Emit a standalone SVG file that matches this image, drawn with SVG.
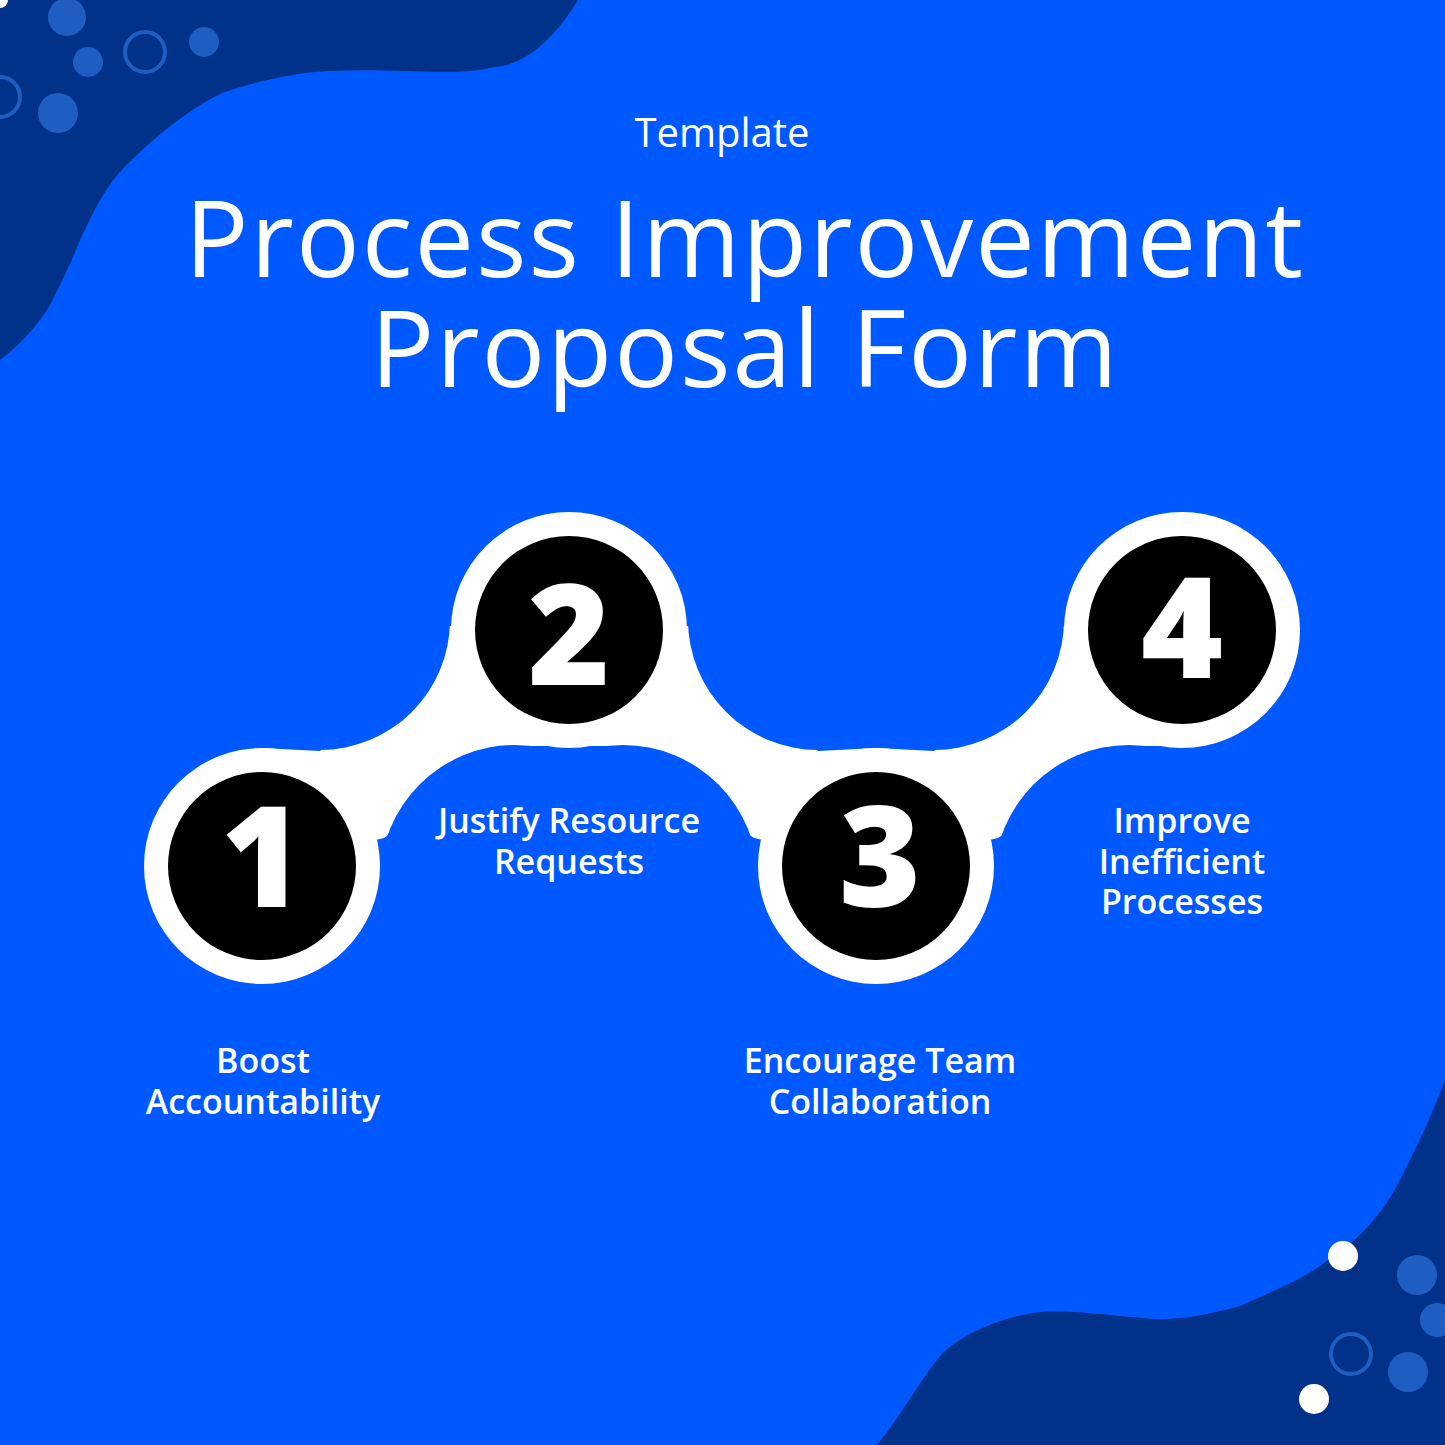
<svg xmlns="http://www.w3.org/2000/svg" width="1445" height="1445" viewBox="0 0 1445 1445">
<style>
.lt{fill:#1e5ec2}.ring{fill:none;stroke:#1e5ec2;stroke-width:4}
.w{fill:#fff}.b{fill:#0059ff}
.num{font-family:"Open Sans","DejaVu Sans",sans-serif;font-weight:800;font-size:140px;fill:#fff;text-anchor:middle}
.lbl{font-family:"Open Sans","Noto Sans",sans-serif;font-weight:600;font-size:34px;fill:#fff;text-anchor:middle}
</style>
<rect width="1445" height="1445" fill="#0059ff"/>
<path fill="#023189" d="M0,0 L578,0 C560,30 530,65 494,67 C460,77 400,68 329,71 C300,72 260,80 222,93 C190,108 150,140 119,173 C100,195 90,220 80,240 C70,265 61,283 50,305 C38,325 20,345 0,360 Z"/>
<path fill="#023189" d="M1445,1080 C1430,1120 1415,1150 1400,1180 C1385,1210 1360,1240 1328,1260 C1300,1282 1267,1293 1240,1306 C1207,1315 1180,1320 1154,1319 C1110,1316 1080,1310 1040,1312 C1000,1317 960,1335 941,1355 C920,1380 905,1410 877,1445 L1445,1445 Z"/>
<circle class="w" cx="0" cy="0" r="8"/>
<circle class="lt" cx="67" cy="17" r="19"/>
<circle class="lt" cx="88" cy="62" r="15"/>
<circle class="ring" cx="145" cy="52" r="20"/>
<circle class="lt" cx="204" cy="42" r="15"/>
<circle class="ring" cx="0" cy="97" r="20"/>
<circle class="lt" cx="58" cy="113" r="20"/>
<circle class="w" cx="1343" cy="1256" r="15"/>
<circle class="w" cx="1314" cy="1399" r="15"/>
<circle class="lt" cx="1417" cy="1275" r="20"/>
<circle class="lt" cx="1437" cy="1320" r="17"/>
<circle class="ring" cx="1351" cy="1354" r="20"/>
<circle class="lt" cx="1408" cy="1372" r="20"/>
<g id="title" font-family="'Open Sans','Noto Sans',sans-serif" fill="#fff" text-anchor="middle">
<text x="722" y="147" font-size="40">Template</text>
<text x="745" y="277" font-size="106" letter-spacing="2">Process Improvement</text>
<text x="745" y="387" font-size="106" letter-spacing="2">Proposal Form</text>
</g>
<g id="connectors">
<polygon class="w" points="262,866 262,748 320,751 450,626 569,630 569,746 515,746 384,838"/>
<polygon class="w" points="876,866 876,748 818,751 688,626 569,630 569,746 623,746 754,838"/>
<polygon class="w" points="876,866 876,748 934,751 1064,626 1183,630 1183,746 1129,746 998,838"/>
<circle class="b" cx="320" cy="620" r="130"/>
<circle class="b" cx="515" cy="880" r="135"/>
<circle class="b" cx="818" cy="620" r="130"/>
<circle class="b" cx="623" cy="880" r="135"/>
<circle class="b" cx="934" cy="620" r="130"/>
<circle class="b" cx="1129" cy="880" r="135"/>
</g>
<g id="node1"><circle class="w" cx="262" cy="866" r="118"/><circle cx="262" cy="866" r="94"/><text class="num" x="262" y="907">1</text><text class="lbl" x="263" y="1073">Boost</text><text class="lbl" x="263" y="1114">Accountability</text></g>
<g id="node2"><circle class="w" cx="569" cy="630" r="118"/><circle cx="569" cy="630" r="94"/><text class="num" x="569" y="685">2</text><text class="lbl" x="569" y="833">Justify Resource</text><text class="lbl" x="569" y="874">Requests</text></g>
<g id="node3"><circle class="w" cx="876" cy="866" r="118"/><circle cx="876" cy="866" r="94"/><text class="num" x="880" y="907">3</text><text class="lbl" x="880" y="1073">Encourage Team</text><text class="lbl" x="880" y="1114">Collaboration</text></g>
<g id="node4"><circle class="w" cx="1182" cy="630" r="118"/><circle cx="1182" cy="630" r="94"/><text class="num" x="1182" y="678">4</text><text class="lbl" x="1182" y="833">Improve</text><text class="lbl" x="1182" y="874">Inefficient</text><text class="lbl" x="1182" y="914">Processes</text></g>
</svg>
